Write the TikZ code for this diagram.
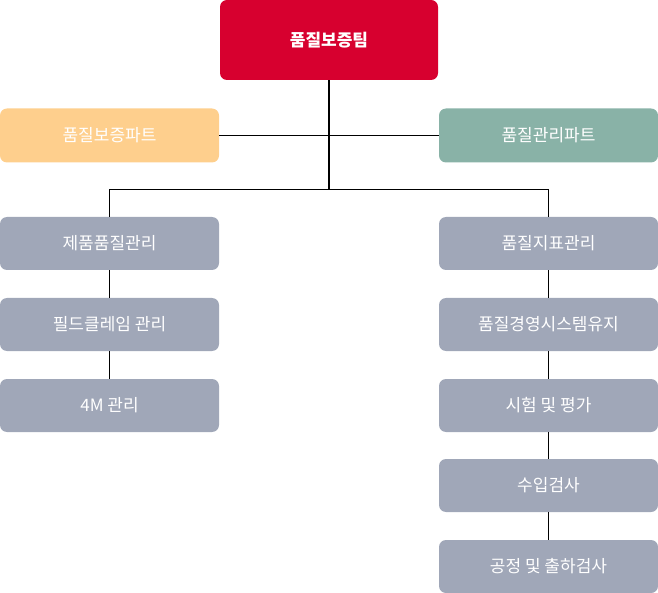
\documentclass[tikz,border=0pt]{standalone}
\usepackage{fontspec}
\setmainfont{Noto Sans CJK KR}
\begin{document}
\begin{tikzpicture}[x=1pt,y=-1pt,
  box/.style={rectangle,rounded corners=7pt,minimum width=219pt,minimum height=53pt,inner sep=0pt,text=white,font=\fontsize{17pt}{20pt}\selectfont},
  graybox/.style={box,fill=grayc},
  link/.style={draw=black,line width=1.2pt}]
\definecolor{redc}{HTML}{D7002F}
\definecolor{orangec}{HTML}{FECF8D}
\definecolor{tealc}{HTML}{89B2A7}
\definecolor{grayc}{HTML}{A0A7B8}
\useasboundingbox (0,0) rectangle (658,593);
\node[box,fill=redc,minimum width=218pt,minimum height=80pt,font=\fontsize{17pt}{20pt}\selectfont\bfseries] (top) at (329,40) {품질보증팀};
\node[box,fill=orangec,minimum height=54pt] (lp) at (109.5,135.5) {품질보증파트};
\node[box,fill=tealc,minimum height=54pt] (rp) at (548.5,135.5) {품질관리파트};
\node[graybox] (l1) at (109.5,243.5) {제품품질관리};
\node[graybox] (l2) at (109.5,324.5) {필드클레임 관리};
\node[graybox] (l3) at (109.5,405.5) {4M 관리};
\node[graybox] (r1) at (548.5,243.5) {품질지표관리};
\node[graybox] (r2) at (548.5,324.5) {품질경영시스템유지};
\node[graybox] (r3) at (548.5,405.5) {시험 및 평가};
\node[graybox] (r4) at (548.5,485.5) {수입검사};
\node[graybox] (r5) at (548.5,566.5) {공정 및 출하검사};
\coordinate (j) at (329,189.5);
\draw[link] (top.south) -- (j);
\draw[link] (lp.east) -- (rp.west);
\draw[link] (j) -| (l1.north);
\draw[link] (j) -| (r1.north);
\draw[link] (l1) -- (l2);
\draw[link] (l2) -- (l3);
\draw[link] (r1) -- (r2);
\draw[link] (r2) -- (r3);
\draw[link] (r3) -- (r4);
\draw[link] (r4) -- (r5);
\end{tikzpicture}
\end{document}
